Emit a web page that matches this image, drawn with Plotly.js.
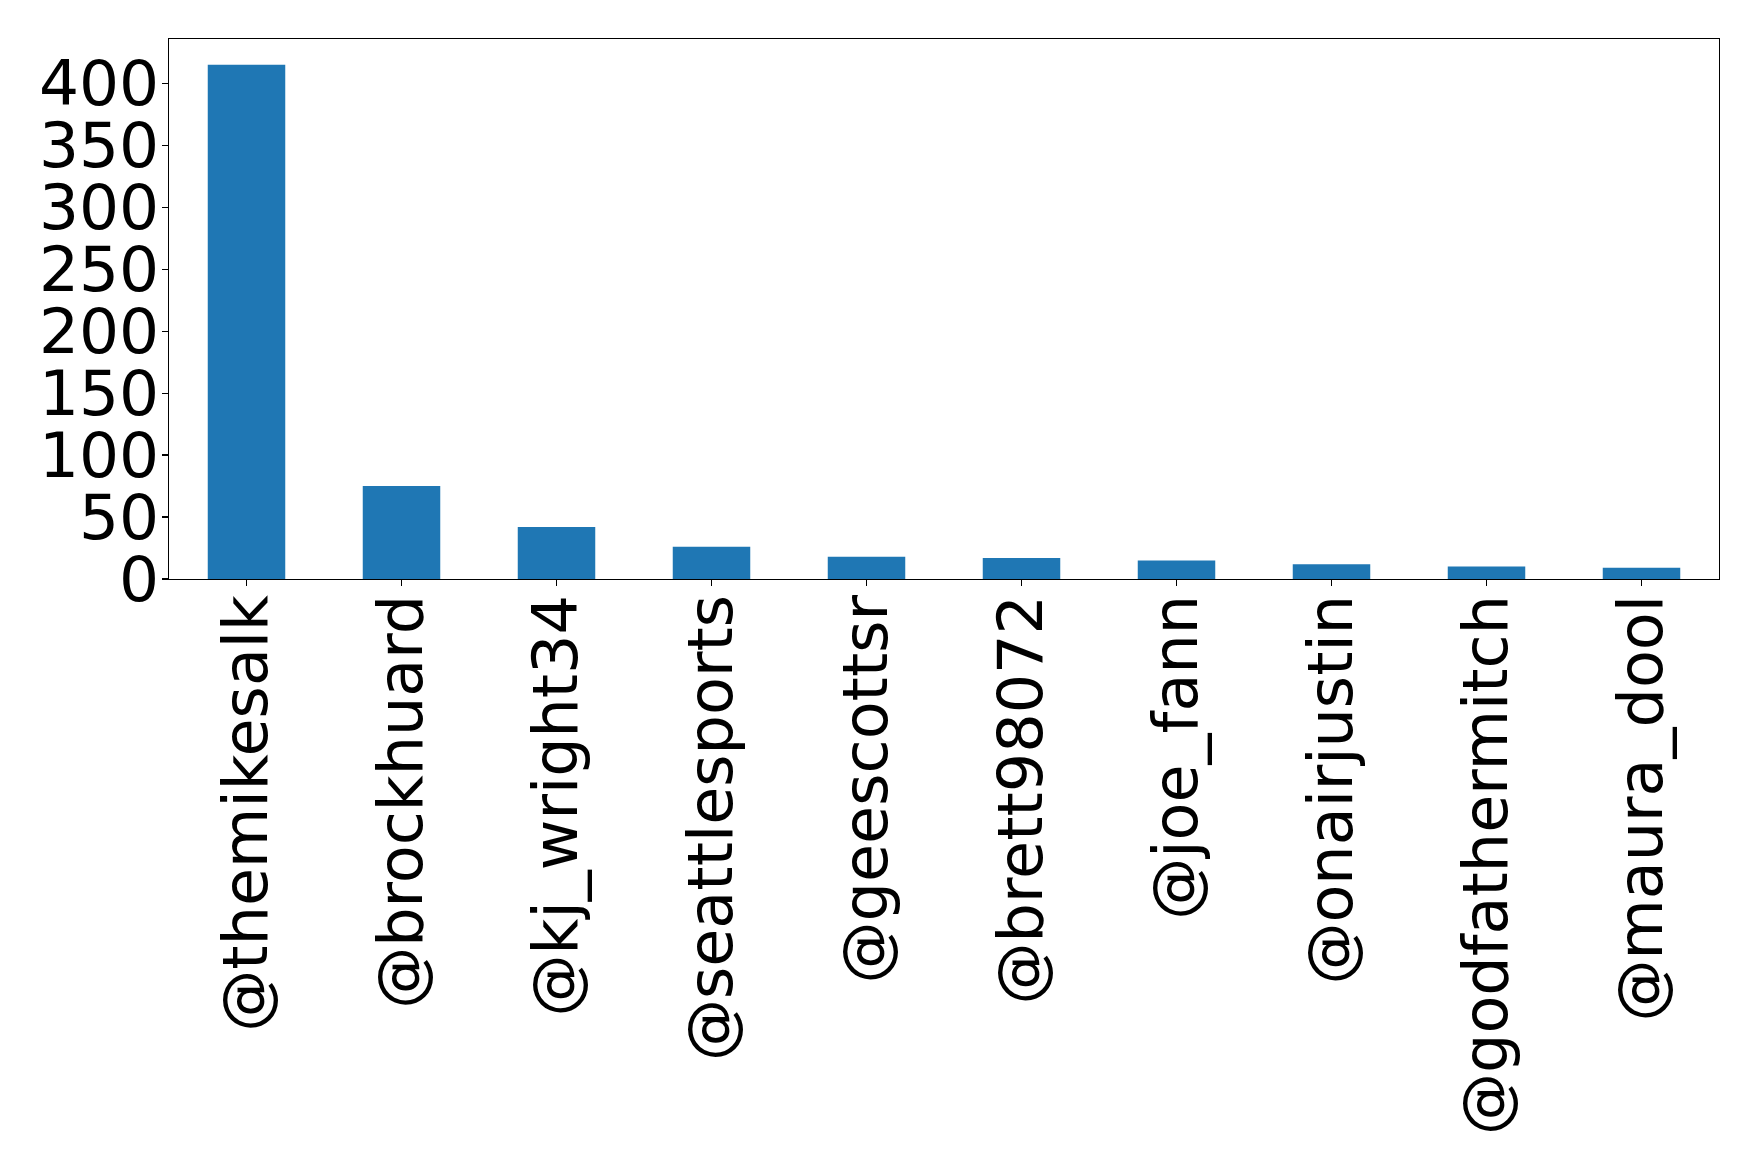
<!DOCTYPE html>
<html>
<head>
<meta charset="utf-8">
<script src="https://cdn.plot.ly/plotly-3.0.1.min.js"></script>
<style>
  html, body { margin: 0; padding: 0; background: #fff; }
  #chart { width: 1759px; height: 1172px; }
</style>
</head>
<body>
<div id="chart"></div>
<script>
// mention counts per account
const accounts = ['@themikesalk', '@brockhuard', '@kj_wright34', '@seattlesports', '@geescottsr',
                  '@brett98072', '@joe_fann', '@onairjustin', '@godfathermitch', '@maura_dool'];
const counts = [415, 75, 42, 26, 18, 17, 15, 12, 10, 9];
const yTicks = [0, 50, 100, 150, 200, 250, 300, 350, 400];

const barData = {
    x: accounts,
    y: counts,
    type: 'bar',
    width: 0.5,
    marker: {color: '#1f77b4'},
    hoverinfo: 'x+y'
};

const layout = {
    width: 1759,
    height: 1172,
    margin: {l: 169, r: 40, t: 39, b: 593},
    paper_bgcolor: '#ffffff',
    plot_bgcolor: '#ffffff',
    showlegend: false,
    font: {family: 'DejaVu Sans', color: '#000000', size: 62},
    xaxis: {
        type: 'category',
        range: [-0.5, accounts.length - 0.5],
        tickangle: -90,
        ticks: 'outside',
        ticklen: 6,
        tickwidth: 1.2,
        tickcolor: '#000',
        ticklabelstandoff: -16,
        showline: true,
        linecolor: '#000',
        linewidth: 1.2,
        mirror: true,
        showgrid: false,
        zeroline: false,
        automargin: false,
        tickfont: {family: 'DejaVu Sans', size: 62, color: '#000'}
    },
    yaxis: {
        range: [0, 435.75],
        tickvals: yTicks,
        ticktext: yTicks.map(String),
        ticks: 'outside',
        ticklen: 6,
        tickwidth: 1.2,
        tickcolor: '#000',
        ticklabelstandoff: -10,
        showline: true,
        linecolor: '#000',
        linewidth: 1.2,
        mirror: true,
        showgrid: false,
        zeroline: false,
        automargin: false,
        tickfont: {family: 'DejaVu Sans', size: 63, color: '#000'}
    }
};

Plotly.newPlot('chart', [barData], layout, {displayModeBar: false, staticPlot: true});
</script>
</body>
</html>
